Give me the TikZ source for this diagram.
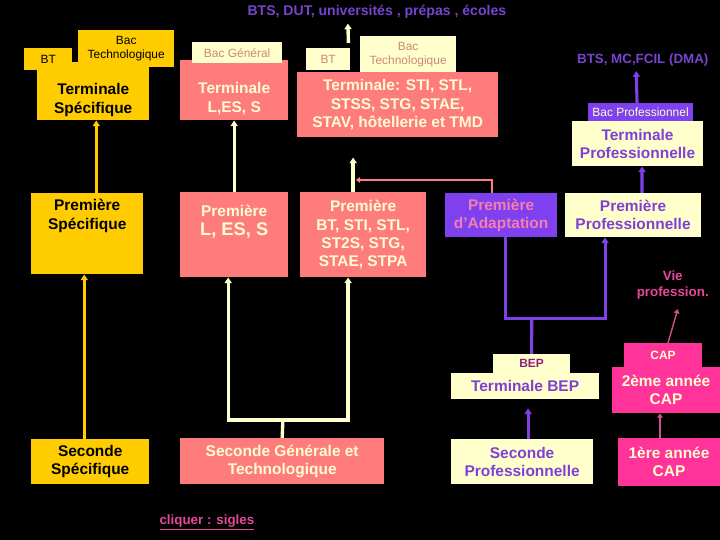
\documentclass[tikz,border=0pt]{standalone}
\usepackage{fontspec}
\setmainfont{Liberation Sans}
\usetikzlibrary{arrows.meta,calc}

\definecolor{gold}{HTML}{FFCC00}
\definecolor{salmon}{HTML}{FF7C7C}
\definecolor{cream}{HTML}{FFFFCC}
\definecolor{violetbox}{HTML}{7F40F0}
\definecolor{violettxt}{HTML}{7F40D8}
\definecolor{violetline}{HTML}{8040E8}
\definecolor{adapttxt}{HTML}{F57FAA}
\definecolor{tabtxt}{HTML}{CC8878}
\definecolor{bepplum}{HTML}{8C2080}
\definecolor{magcap}{HTML}{FF3399}
\definecolor{rosetxt}{HTML}{E8489A}
\definecolor{capline}{HTML}{D0508C}
\definecolor{titleviolet}{HTML}{7744D0}

\begin{document}
\begin{tikzpicture}[
  x=0.025cm, y=-0.025cm,
  box/.style={anchor=north west, inner sep=0pt, align=center, font=\fontsize{11}{13}\bfseries},
  tab/.style={anchor=north west, inner sep=0pt, align=center, font=\fontsize{8.5}{10}\selectfont},
  wh/.style 2 args={minimum width=#1*0.025cm, minimum height=#2*0.025cm},
  flowY/.style={draw=gold, line width=2.2pt, -{Triangle[length=4pt,width=5pt]}},
  lineC/.style={draw=cream, line width=2.4pt, line join=miter},
  flowC/.style={lineC, -{Triangle[length=4pt,width=5pt]}},
  flowS/.style={draw=salmon, line width=1.6pt, line join=miter, -{Triangle[length=3pt,width=4pt]}},
  lineP/.style={draw=violetline, line width=2.2pt, line join=miter},
  flowP/.style={lineP, -{Triangle[length=4pt,width=5pt]}},
  flowM/.style={draw=capline, line width=1.4pt, -{Triangle[length=3pt,width=4pt]}}
]
\fill[black] (0,0) rectangle (720,540);

\node[font=\fontsize{10}{12}\bfseries, text=titleviolet] (title) at (377,12) {BTS, DUT, universités , prépas , écoles};
\node[font=\fontsize{9.5}{11}\bfseries, text=titleviolet] (dma) at (643,60) {BTS, MC,FCIL (DMA)};

\node[box, wh={112}{58}, fill=gold, text height=36.1pt, text depth=5pt] (specT) at (37,62) {Terminale\\Spécifique};
\node[tab, wh={48}{22}, fill=gold] (specBT) at (24,48) {BT};
\node[tab, wh={96}{37}, fill=gold] (specBac) at (78,30) {Bac\\Technologique};
\node[box, wh={112}{81}, fill=gold, text height=25.5pt, text depth=31.9pt] (specP) at (31,193) {Première\\Spécifique};
\node[box, wh={118}{45}, fill=gold] (specS) at (31,439) {Seconde\\Spécifique};

\node[box, wh={108}{60}, fill=salmon, text=cream, text height=36.8pt, text depth=5.7pt] (genT) at (180,60) {Terminale\\L,ES, S};
\node[tab, wh={90}{21}, fill=cream, text=tabtxt] (genTab) at (192,42) {Bac Général};
\node[box, wh={108}{85}, fill=salmon, text=cream, text height=30.5pt, text depth=29.7pt] (genP) at (180,192) {Première\\\fontsize{13}{15.6}\selectfont L, ES, S};
\node[box, wh={204}{46}, fill=salmon, text=cream] (sec) at (180,438) {Seconde Générale et\\Technologique};

\node[box, wh={201}{65}, fill=salmon, text=cream] (techT) at (297,72) {Terminale: STI, STL,\\STSS, STG, STAE,\\STAV, hôtellerie et TMD};
\node[tab, wh={44}{22}, fill=cream, text=tabtxt] (btT) at (306,48) {BT};
\node[tab, wh={96}{36}, fill=cream, text=tabtxt] (bacT) at (360,36) {Bac\\Technologique};
\node[box, wh={126}{85}, fill=salmon, text=cream] (techP) at (300,192) {Première\\BT, STI, STL,\\ST2S, STG,\\STAE, STPA};

\node[box, wh={112}{44}, fill=violetbox, text=adapttxt] (adapt) at (445,193) {Première\\d’Adaptation};
\node[box, wh={136}{44}, fill=cream, text=violettxt] (proP) at (565,193) {Première\\Professionnelle};
\node[box, wh={131}{45}, fill=cream, text=violettxt] (proT) at (572,121) {Terminale\\Professionnelle};
\node[tab, wh={105}{18}, fill=violetbox, text=cream] (bacPro) at (588,103) {Bac Professionnel};
\node[box, wh={148}{26}, fill=cream, text=violettxt] (tBEP) at (451,373) {Terminale BEP};
\node[tab, wh={77}{19}, fill=cream, text=bepplum, font=\fontsize{8.5}{10}\bfseries] (bepTab) at (493,354) {BEP};
\node[box, wh={142}{45}, fill=cream, text=violettxt] (secPro) at (451,439) {Seconde\\Professionnelle};

\node[box, wh={108}{46}, fill=magcap, text=cream] (cap2) at (612,367) {2ème année\\CAP};
\node[tab, wh={78}{24}, fill=magcap, text=cream, font=\fontsize{8.5}{10}\bfseries] (capTab) at (624,343) {CAP};
\node[box, wh={102}{48}, fill=magcap, text=cream] (cap1) at (618,438) {1ère année\\CAP};

\node[font=\fontsize{9.5}{11.5}\bfseries, align=center, text=rosetxt] (vie) at (673,285) {Vie\\profession.};
\node[font=\fontsize{9.5}{11}\bfseries, text=rosetxt] (clic) at (207,523) {\underline{cliquer : sigles}};

\coordinate (gsplit) at (283,420);
\coordinate (tjoin) at (356,180);
\coordinate (psplit) at (532,319);

\draw[flowY] ($(specP.north)+(9,0)$) -- ($(specT.south)+(3,0)$);
\draw[flowY] ($(specS.north)+(-6,0)$) -- ($(specP.south)+(-3,0)$);

\draw[flowC] (genP.north) -- (genT.south);
\draw[lineC] (sec.north) -- (gsplit);
\draw[flowC] (gsplit) -| ($(genP.south)+(-6,0)$);
\draw[flowC] (gsplit) -| ($(techP.south)+(-15,0)$);
\draw[flowC, shorten >=0.5cm] ($(techP.north)+(-10,0)$) -- ($(techT.south)+(-44.5,0)$);
\draw[flowC] ($(btT.north east)+(-2,-5)$) -- ($(title.south)+(-29,0)$);
\draw[flowS] ($(adapt.north)+(-9,0)$) |- (tjoin);

\draw[lineP] (bepTab.north) -- (psplit);
\draw[lineP] (psplit) -| ($(adapt.south)+(4,0)$);
\draw[flowP] (psplit) -| ($(proP.south)+(-28,0)$);
\draw[flowP, shorten >=0.225cm] ($(secPro.north)+(6,0)$) -- ($(tBEP.south)+(3,0)$);
\draw[flowP] ($(proP.north)+(9,0)$) -- ($(proT.south)+(4.5,0)$);
\draw[flowP] ($(bacPro.north)+(-3.5,0)$) -- ($(dma.south)+(-6.5,0)$);

\draw[flowM] ($(cap1.north)+(-9,0)$) -- ($(cap2.south)+(-6,0)$);
\draw[flowM, line width=1pt] ($(capTab.north)+(5,0)$) -- ($(vie.south)+(5,5)$);
\end{tikzpicture}
\end{document}
